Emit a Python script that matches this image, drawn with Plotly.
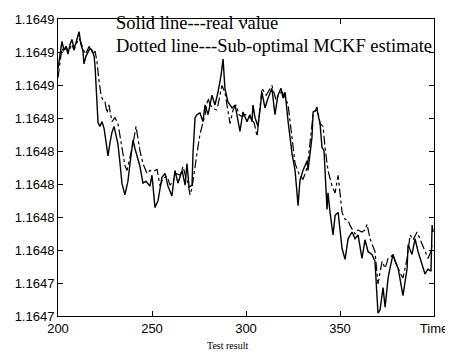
import plotly.graph_objects as go

# ---- data ----
t_real = [200.0, 201.1, 202.1, 203.2, 204.3, 205.3, 206.4, 207.4, 208.5, 209.6, 211.2, 212.2, 213.3, 213.8,
          214.9, 216.0, 217.0, 218.1, 219.2, 219.7, 220.7, 221.3, 222.3, 223.4, 224.5, 225.5, 226.6, 227.7,
          228.7, 229.8, 230.9, 231.9, 233.0, 234.0, 235.6, 237.2, 238.3, 239.9, 241.0, 242.0, 243.6, 245.2,
          246.8, 248.9, 250.0, 251.6, 253.2, 255.3, 256.9, 258.5, 260.6, 262.2, 263.8, 266.0, 267.6, 268.6,
          269.7, 271.3, 271.8, 272.9, 273.9, 275.5, 277.1, 278.2, 279.8, 281.9, 283.5, 285.1, 286.7, 287.8,
          288.8, 290.4, 292.6, 294.2, 295.2, 296.8, 298.4, 300.5, 302.1, 303.2, 303.7, 304.8, 306.4, 308.5,
          310.1, 311.7, 313.8, 315.4, 317.0, 318.6, 319.7, 320.8, 322.4, 324.5, 326.1, 327.7, 328.7, 330.3,
          332.5, 333.0, 335.1, 335.7, 337.8, 339.4, 340.4, 341.5, 343.1, 343.6, 344.7, 346.3, 347.4, 349.0,
          351.1, 352.7, 354.3, 356.4, 358.0, 359.6, 361.7, 363.3, 364.9, 367.0, 368.6, 370.2, 371.3, 372.9,
          374.0, 375.6, 376.6, 378.2, 379.3, 380.9, 383.5, 385.7, 386.2, 388.3, 389.9, 391.5, 393.6, 395.2,
          396.8, 398.4, 399.0, 399.5]
real_value = [1.1648698, 1.1648805, 1.1648864, 1.1648811, 1.1648834, 1.1648787, 1.1648846, 1.1648876,
              1.1648822, 1.1648858, 1.1648923, 1.1648846, 1.1648805, 1.1648728, 1.1648775, 1.1648799,
              1.1648822, 1.1648811, 1.1648775, 1.1648716, 1.1648538, 1.1648372, 1.1648349, 1.1648378,
              1.1648337, 1.1648242, 1.1648171, 1.1648254, 1.1648313, 1.1648349, 1.1648284, 1.1648242,
              1.1648124, 1.1648005, 1.1647934, 1.1648017, 1.1648124, 1.1648266, 1.1648212, 1.1648171,
              1.1648106, 1.1648005, 1.1648017, 1.1647987, 1.1648053, 1.1647857, 1.1647899, 1.1648041,
              1.1648064, 1.1647987, 1.1647928, 1.1648082, 1.1648005, 1.1648082, 1.1647993, 1.1648124,
              1.1647981, 1.1647993, 1.1648183, 1.1648402, 1.1648420, 1.1648431, 1.1648378, 1.1648479,
              1.1648420, 1.1648538, 1.1648479, 1.1648556, 1.1648657, 1.1648757, 1.1648580, 1.1648497,
              1.1648461, 1.1648479, 1.1648420, 1.1648319, 1.1648437, 1.1648378, 1.1648420, 1.1648378,
              1.1648479, 1.1648402, 1.1648349, 1.1648556, 1.1648461, 1.1648520, 1.1648580, 1.1648420,
              1.1648538, 1.1648580, 1.1648520, 1.1648556, 1.1648378, 1.1648183, 1.1648082, 1.1647869,
              1.1648023, 1.1648082, 1.1648141, 1.1648082, 1.1648284, 1.1648437, 1.1648449, 1.1648366,
              1.1648224, 1.1648201, 1.1647845, 1.1647946, 1.1647828, 1.1647691, 1.1647810, 1.1647828,
              1.1647609, 1.1647543, 1.1647668, 1.1647709, 1.1647668, 1.1647691, 1.1647549, 1.1647662,
              1.1647591, 1.1647573, 1.1647532, 1.1647218, 1.1647236, 1.1647372, 1.1647253, 1.1647431,
              1.1647490, 1.1647573, 1.1647532, 1.1647490, 1.1647324, 1.1647490, 1.1647632, 1.1647573,
              1.1647668, 1.1647591, 1.1647514, 1.1647455, 1.1647484, 1.1647472, 1.1647751, 1.1647709]

t_est = [200.0, 201.1, 202.1, 203.2, 204.3, 205.3, 206.4, 207.4, 208.5, 209.6, 211.2, 212.2, 213.3, 214.4,
         215.4, 216.5, 217.6, 218.6, 219.7, 220.7, 221.8, 222.9, 223.9, 225.0, 226.1, 227.1, 228.7, 230.3,
         231.9, 233.0, 234.6, 235.6, 236.7, 238.3, 239.9, 241.5, 242.6, 243.6, 245.2, 247.3, 248.9, 250.5,
         252.7, 254.3, 255.9, 258.0, 259.6, 261.2, 262.8, 264.9, 266.5, 268.1, 269.2, 270.2, 271.3, 272.9,
         273.9, 275.5, 277.1, 278.2, 279.8, 280.9, 282.5, 284.1, 285.1, 287.2, 288.8, 289.9, 291.5, 293.1,
         294.7, 296.3, 297.9, 299.5, 301.1, 302.7, 304.3, 305.9, 307.5, 308.5, 310.7, 312.3, 313.8, 316.0,
         317.6, 319.2, 320.8, 322.4, 323.4, 325.0, 326.1, 327.7, 328.7, 330.3, 331.9, 333.0, 334.6, 335.7,
         337.8, 339.4, 341.0, 342.0, 343.6, 345.8, 347.4, 349.0, 351.1, 352.7, 354.3, 355.3, 358.0, 359.6,
         361.7, 363.3, 364.4, 366.0, 367.6, 368.6, 370.2, 371.3, 372.4, 374.0, 375.6, 377.2, 378.2, 379.8,
         380.9, 382.5, 383.5, 385.7, 387.3, 388.9, 391.0, 392.6, 393.6, 395.2, 396.8, 398.4, 399.0]
mckf_estimate = [1.1648645, 1.1648745, 1.1648822, 1.1648799, 1.1648834, 1.1648805, 1.1648822, 1.1648846,
                 1.1648811, 1.1648846, 1.1648882, 1.1648858, 1.1648822, 1.1648787, 1.1648805, 1.1648834,
                 1.1648816, 1.1648787, 1.1648805, 1.1648745, 1.1648627, 1.1648538, 1.1648508, 1.1648497,
                 1.1648431, 1.1648479, 1.1648378, 1.1648402, 1.1648366, 1.1648284, 1.1648183, 1.1648112,
                 1.1648082, 1.1648153, 1.1648242, 1.1648349, 1.1648272, 1.1648201, 1.1648124, 1.1648064,
                 1.1648082, 1.1648076, 1.1648088, 1.1647987, 1.1648035, 1.1648047, 1.1647993, 1.1648017,
                 1.1648064, 1.1648053, 1.1648106, 1.1648035, 1.1648005, 1.1647934, 1.1647976, 1.1648124,
                 1.1648183, 1.1648301, 1.1648378, 1.1648420, 1.1648520, 1.1648479, 1.1648461, 1.1648449,
                 1.1648479, 1.1648597, 1.1648556, 1.1648479, 1.1648366, 1.1648449, 1.1648479, 1.1648420,
                 1.1648408, 1.1648420, 1.1648420, 1.1648390, 1.1648372, 1.1648289, 1.1648479, 1.1648580,
                 1.1648538, 1.1648568, 1.1648597, 1.1648508, 1.1648550, 1.1648556, 1.1648526, 1.1648479,
                 1.1648378, 1.1648242, 1.1648124, 1.1648076, 1.1648047, 1.1648029, 1.1648076, 1.1648141,
                 1.1648301, 1.1648420, 1.1648467, 1.1648366, 1.1648349, 1.1648224, 1.1648082, 1.1647987,
                 1.1647946, 1.1648053, 1.1647828, 1.1647786, 1.1647780, 1.1647749, 1.1647697, 1.1647721,
                 1.1647709, 1.1647721, 1.1647756, 1.1647668, 1.1647620, 1.1647591, 1.1647395, 1.1647461,
                 1.1647532, 1.1647490, 1.1647549, 1.1647561, 1.1647573, 1.1647520, 1.1647490, 1.1647449,
                 1.1647431, 1.1647549, 1.1647691, 1.1647662, 1.1647709, 1.1647662, 1.1647632, 1.1647591,
                 1.1647549, 1.1647591, 1.1647632]

x_tick_vals = [200, 250, 300, 350, 400]
x_tick_text = ["200", "250", "300", "350", "Time"]
y_tick_vals = [1.16472, 1.16474, 1.16476, 1.16478, 1.16480, 1.16482, 1.16484, 1.16486, 1.16488, 1.16490]
y_tick_text = ["1.1647", "1.1647", "1.1648", "1.1648", "1.1648", "1.1648", "1.1648", "1.1649", "1.1649", "1.1649"]

legend_lines = ["Solid line---real value", "Dotted line---Sub-optimal MCKF estimate"]
caption = "Test result"

fig = go.Figure()
fig.add_trace(go.Scatter(x=t_est, y=mckf_estimate, mode="lines",
                         line=dict(color="black", width=1.2, dash="dashdot"), showlegend=False))
fig.add_trace(go.Scatter(x=t_real, y=real_value, mode="lines",
                         line=dict(color="black", width=1.4), showlegend=False))

axis_common = dict(showgrid=False, zeroline=False, showline=True, linecolor="black", linewidth=1,
                   mirror="ticks", ticks="inside", ticklen=5, tickcolor="black",
                   ticklabeloverflow="allow",
                   tickfont=dict(family="Liberation Sans, Arial, sans-serif", size=13, color="black"))

fig.update_xaxes(range=[200, 400], tickmode="array", tickvals=x_tick_vals, ticktext=x_tick_text,
                 **axis_common)
fig.update_yaxes(range=[1.16472, 1.16490], tickmode="array", tickvals=y_tick_vals, ticktext=y_tick_text,
                 **axis_common)

serif = "Liberation Serif, Times New Roman, serif"
fig.add_annotation(xref="paper", yref="paper", x=0.150, y=0.987, xanchor="left", yanchor="middle",
                   text=legend_lines[0], showarrow=False,
                   font=dict(family=serif, size=18.5, color="black"))
fig.add_annotation(xref="paper", yref="paper", x=0.150, y=0.908, xanchor="left", yanchor="middle",
                   text=legend_lines[1], showarrow=False,
                   font=dict(family=serif, size=18.5, color="black"))
fig.add_annotation(xref="paper", yref="paper", x=(227 - 58) / 376, y=-30 / 304, xanchor="center",
                   yanchor="middle", text=caption, showarrow=False,
                   font=dict(family=serif, size=10, color="black"))

# the page body adds an 8px offset; size and margins compensate for it
fig.update_layout(width=445, height=348, margin=dict(l=50, r=19, t=4, b=40),
                  paper_bgcolor="white", plot_bgcolor="white")

fig.write_html("out.html")
